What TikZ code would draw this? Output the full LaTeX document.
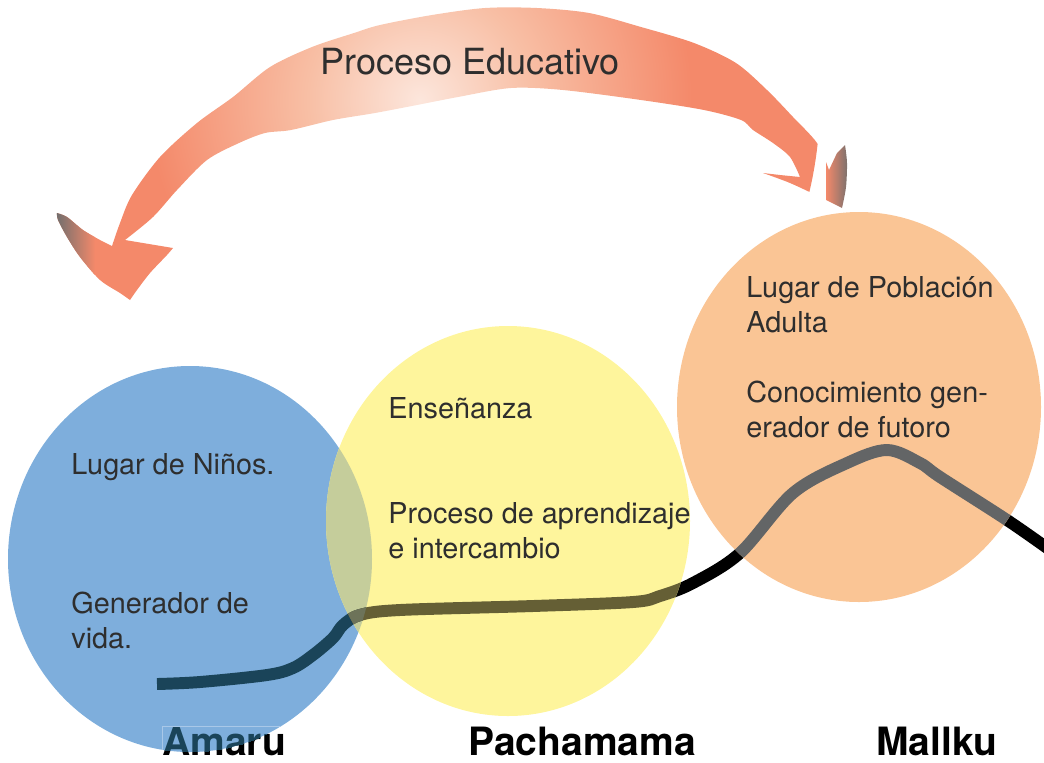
\documentclass[tikz,border=0pt]{standalone}
\usepackage{fontspec}
\setmainfont{TeX Gyre Heros}
\usepackage{xcolor}
\usepackage{tikz}
\usetikzlibrary{positioning}

\definecolor{bluefill}{HTML}{7EAEDC}
\definecolor{yellowfill}{HTML}{FEF59C}
\definecolor{orangefill}{HTML}{FAC595}
\definecolor{overlapfill}{HTML}{C5CD9B}
\definecolor{lineblue}{HTML}{1A4459}
\definecolor{lineyellow}{HTML}{655F35}
\definecolor{lineoverlap}{HTML}{6D7359}
\definecolor{lineorange}{HTML}{636566}
\definecolor{txtgray}{HTML}{2E2E2E}
\definecolor{amarubox}{HTML}{A9C8E8}
\definecolor{arrowsalmon}{HTML}{F4896A}
\definecolor{arrowmid}{HTML}{F8BFA5}
\definecolor{arrowpale}{HTML}{FCE6DC}
\definecolor{tipgray}{HTML}{6E6E6E}

\pgfdeclareradialshading{glow}{\pgfpoint{0bp}{0bp}}{%
  color(0bp)=(arrowpale); color(7bp)=(arrowmid);
  color(17bp)=(arrowsalmon); color(50bp)=(arrowsalmon)}

% the three places
\def\amaruzone{(190,559) ellipse [x radius=182, y radius=193]}
\def\pachazone{(508,521) ellipse [x radius=182, y radius=195]}
\def\mallkuzone{(859,407) ellipse [x radius=182, y radius=195]}
% the line of life
\def\lifepath{plot[smooth, tension=0.55] coordinates {(157,684) (200,682)
  (267,675) (293,668) (313,655) (333,638) (343,625) (360,615) (400,610)
  (533,606) (633,602) (660,596) (693,583) (740,553) (793,493) (847,463)
  (887,450) (920,463) (940,477) (1007,520) (1050,550)}}
% the big arrow
\def\arrowpath{(57,213) -- plot[smooth] coordinates {(57,213) (67,217)
  (83,230) (100,240) (112,246)} -- plot[smooth] coordinates {(112,246)
  (120,223) (132,195) (160,157) (197,123) (233,97) (270,67) (312,47)
  (354,33) (380,25) (432,15) (485,8) (537,8) (589,13) (641,27) (694,43)
  (736,63) (767,90) (793,117) (817,143) (829,170)} -- (837,153) -- (845,145)
  -- plot[smooth] coordinates {(845,145) (847,163) (846,187) (842,208)}
  -- plot[smooth] coordinates {(842,208) (820,197) (790,183) (763,173)}
  -- (780,175) -- (800,177) -- plot[smooth] coordinates {(800,177)
  (790,157) (773,143) (753,130) (741,120) (704,110) (641,100) (563,90)
  (511,88) (458,97) (417,105) (375,113) (333,120) (291,130) (265,133)
  (239,143) (207,160) (177,190) (153,217) (125,240)} -- (173,248)
  -- plot[smooth] coordinates {(173,248) (167,255) (150,273) (137,290)
  (130,300)} -- plot[smooth] coordinates {(130,300) (120,293) (100,280)
  (80,257) (67,237) (58,220) (57,213)} -- cycle}

\begin{document}
\begin{tikzpicture}[x=0.02cm, y=-0.02cm,
  lifeline/.style={line width=6.8pt, line join=round},
  lbl/.style={anchor=base west, inner sep=0, text=txtgray,
              font=\fontsize{16.4}{19}\selectfont},
  title/.style={anchor=base west, inner sep=0, text=txtgray,
                font=\fontsize{20.5}{24}\selectfont},
  place/.style={anchor=base west, inner sep=0,
                font=\fontsize{22.2}{26}\selectfont\bfseries},
]
\useasboundingbox (0,0) rectangle (1044,762);

%% Line and names under the circles
\draw[lifeline, black] \lifepath;
\node[place] at (162,755) (amaru)  {Amaru};
\node[place] at (468,755) (pacha)  {Pachamama};
\node[place] at (876,755) (mallku) {Mallku};

%% Circles
\fill[bluefill]   \amaruzone;
\fill[yellowfill] \pachazone;
\begin{scope}
  \clip \amaruzone;
  \fill[overlapfill] \pachazone;
\end{scope}
\fill[orangefill] \mallkuzone;

%% Line and name seen through the circles
\begin{scope}
  \clip \amaruzone;
  \draw[lifeline, lineblue] \lifepath;
  \node[place, text=lineblue] at (162,755) (amaruin) {Amaru};
  \draw[amarubox, line width=0.5pt] (amaruin.south west) |- (amaruin.north east);
\end{scope}
\begin{scope}
  \clip \pachazone;
  \draw[lifeline, lineyellow] \lifepath;
  \clip \amaruzone;
  \draw[lifeline, lineoverlap] \lifepath;
\end{scope}
\begin{scope}
  \clip \mallkuzone;
  \draw[lifeline, lineorange] \lifepath;
\end{scope}

%% Texts in the circles
\node[lbl] at (71,474)  (ninos)  {Lugar de Niños.};
\node[lbl] at (71,613)  (gen1)   {Generador de};
\node[lbl] at (71,648)  (gen2)   {vida.};
\node[lbl] at (388,418) (ense)   {Enseñanza};
\node[lbl] at (388,523) (apre1)  {Proceso de aprendizaje};
\node[lbl] at (388,558) (apre2)  {e intercambio};
\node[lbl] at (746,297) (pobl1)  {Lugar de Población};
\node[lbl] at (746,332) (pobl2)  {Adulta};
\node[lbl] at (746,402) (cono1)  {Conocimiento gen-};
\node[lbl] at (746,437) (cono2)  {erador de futoro};

%% Arrow
\begin{scope}
  \clip \arrowpath;
  \shade[shading=glow] (420,100) circle (400);
  \shade[left color=tipgray, right color=arrowsalmon] (55,205) rectangle (95,302);
  \shade[left color=arrowsalmon, right color=tipgray] (826,140) rectangle (850,212);
\end{scope}
\node[title] at (320,74) (proceso) {Proceso Educativo};
\end{tikzpicture}
\end{document}
